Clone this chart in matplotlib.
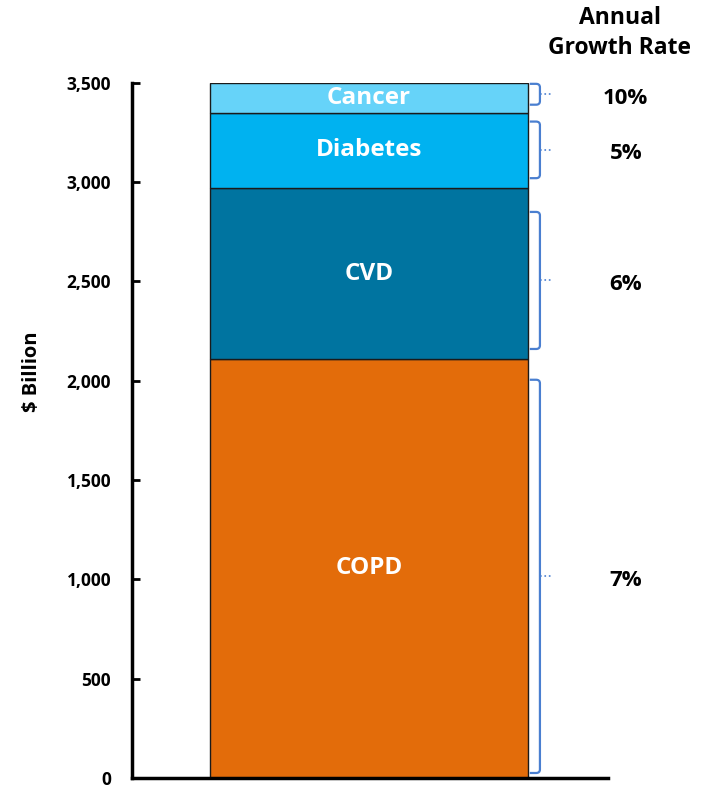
import matplotlib
matplotlib.use('Agg')
import matplotlib.pyplot as plt
import numpy as np
from matplotlib.path import Path
from matplotlib.patches import PathPatch

# 数据
categories = ['COPD', 'CVD', 'Diabetes', 'Cancer']
values = [2110, 860, 380, 150]
colors = ['#e36c0a', '#0074a0', '#00b2f0', '#66d3f9']
growth_labels = ['7%', '6%', '5%', '10%']
# 花括号的上下范围 ($ Billion)
brace_low = [25, 2160, 3020, 3390]
brace_high = [2005, 2850, 3305, 3495]
yticks = np.arange(0, 3501, 500)

plt.rcParams['font.family'] = ['Open Sans', 'DejaVu Sans']
plt.rcParams['font.weight'] = 'bold'

fig = plt.figure(figsize=(7.10, 7.89), dpi=100)
ax = fig.add_axes([0.1859, 0.0140, 0.6704, 0.8810])

# 堆叠柱
bottom = 0
for cat, v, c in zip(categories, values, colors):
    ax.bar(0, v, bottom=bottom, width=1.0, color=c, edgecolor='#1a1a1a', linewidth=1.0, zorder=2)
    ax.text(0, bottom + v / 2, cat, color='white', fontsize=17.5, fontweight='bold',
            ha='center', va='center', zorder=3)
    bottom += v

ax.set_xlim(-0.745, 0.752)
ax.set_ylim(0, 3500)
ax.set_yticks(yticks)
ax.set_yticklabels(['{:,}'.format(t) for t in yticks], fontsize=12.5, fontweight='bold')
ax.set_xticks([])
ax.tick_params(axis='y', direction='in', length=6, width=2, pad=15)
ax.spines['top'].set_visible(False)
ax.spines['right'].set_visible(False)
ax.spines['left'].set_linewidth(2.5)
ax.spines['bottom'].set_linewidth(2.5)
ax.set_ylabel('$ Billion', fontsize=14.5, fontweight='bold')
ax.yaxis.set_label_coords(-0.19, 0.585)

# 花括号
x0, x1, x2 = 0.506, 0.538, 0.572
rx, ry = 0.012, 18
brace_color = '#4a7fd0'
for lo, hi, lab in zip(brace_low, brace_high, growth_labels):
    verts = [(x0, hi), (x1 - rx, hi), (x1, hi), (x1, hi - ry),
             (x1, lo + ry), (x1, lo), (x1 - rx, lo), (x0, lo)]
    codes = [Path.MOVETO, Path.LINETO, Path.CURVE3, Path.CURVE3,
             Path.LINETO, Path.CURVE3, Path.CURVE3, Path.LINETO]
    ax.add_patch(PathPatch(Path(verts, codes), facecolor='none', edgecolor=brace_color,
                           linewidth=1.6, clip_on=False, zorder=4))
    mid = (lo + hi) / 2
    ax.plot([x1, x2], [mid, mid], color=brace_color, linewidth=1.2, linestyle=':', clip_on=False)
    ax.text(0.808, mid - 20, lab, fontsize=16, fontweight='bold', ha='center', va='center')

fig.text(620 / 710, 1 - 33 / 789, 'Annual\nGrowth Rate', fontsize=16.5, fontweight='bold',
         ha='center', va='center', linespacing=1.3)

plt.savefig('out.png', dpi=100)
